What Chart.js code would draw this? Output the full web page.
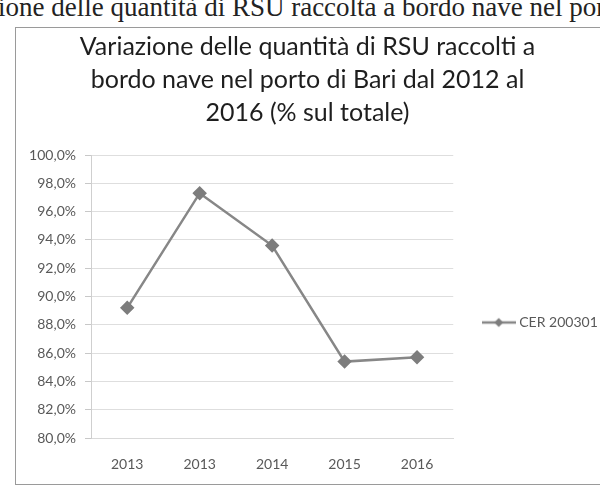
<!DOCTYPE html>
<html lang="it">
<head>
<meta charset="utf-8">
<title>Variazione RSU porto di Bari</title>
<script src="https://cdn.jsdelivr.net/npm/chart.js@4.4.1/dist/chart.umd.min.js"></script>
<style>
  html, body {
    margin: 0;
    padding: 0;
    width: 600px;
    height: 490px;
    overflow: hidden;
    background: #fff;
  }
  .header {
    position: absolute;
    left: -71px;
    top: -6px;
    white-space: nowrap;
    font-family: "Liberation Serif", "DejaVu Serif", serif;
    font-size: 27px;
    line-height: 27px;
    color: #222;
  }
  .frame {
    position: absolute;
    left: 15px;
    top: 27px;
    width: 604px;
    height: 456px;
    border: 1px solid #9a9a9a;
    border-right: none;
  }
</style>
</head>
<body>
<div class="header">Variazione delle quantità di RSU raccolta a bordo nave nel porto di Bari</div>
<div class="frame">
  <canvas id="rsuChart" width="604" height="456"></canvas>
</div>
<script>
const titleLines = [
  "Variazione delle quantità di RSU raccolti a",
  "bordo nave nel porto di Bari dal 2012 al",
  "2016 (% sul totale)",
];
const years = ["2013", "2013", "2014", "2015", "2016"];
const cer200301 = [89.2, 97.3, 93.6, 85.4, 85.7];
const seriesName = "CER 200301";
const yMin = 80;
const yMax = 100;
const yStep = 2;

const lineColor = "#878787";
const markerColor = "#7d7d7d";
const textGray = "#595959";

// little line + diamond for the legend entry
function legendSymbol() {
  const c = document.createElement("canvas");
  c.width = 34;
  c.height = 12;
  const g = c.getContext("2d");
  g.strokeStyle = lineColor;
  g.lineWidth = 2.5;
  g.beginPath();
  g.moveTo(0, 6);
  g.lineTo(34, 6);
  g.stroke();
  g.fillStyle = markerColor;
  g.beginPath();
  g.moveTo(17, 1.5);
  g.lineTo(21.5, 6);
  g.lineTo(17, 10.5);
  g.lineTo(12.5, 6);
  g.closePath();
  g.fill();
  return c;
}

// Excel puts the legend a bit below the middle of the plot
const legendNudge = {
  id: "legendNudge",
  afterLayout(chart) {
    const area = chart.chartArea;
    chart.legend.top = area.top + 26;
    chart.legend.bottom = area.bottom + 26;
  },
};

document.addEventListener("DOMContentLoaded", () => {
  const ctx = document.getElementById("rsuChart").getContext("2d");
  const symbol = legendSymbol();

  new Chart(ctx, {
    type: "line",
    data: {
      labels: years,
      datasets: [
        {
          label: seriesName,
          data: cer200301,
          borderColor: lineColor,
          backgroundColor: markerColor,
          borderWidth: 2.5,
          pointStyle: "rectRot",
          pointRadius: 5.5,
          pointBackgroundColor: markerColor,
          pointBorderColor: markerColor,
          tension: 0,
        },
      ],
    },
    options: {
      responsive: false,
      animation: false,
      layout: {
        padding: { left: 0, right: 21, top: 0, bottom: 11 },
      },
      plugins: {
        title: {
          display: true,
          text: titleLines,
          color: "#1e1e1e",
          font: { family: "Lato", size: 25, weight: "normal", lineHeight: 33 / 25 },
          padding: { top: 2.5, bottom: 25.5 },
        },
        legend: {
          position: "right",
          labels: {
            color: textGray,
            font: { family: "Lato", size: 14 },
            padding: 32,
            usePointStyle: true,
            pointStyleWidth: 27,
            generateLabels: (chart) =>
              chart.data.datasets.map((ds, i) => ({
                text: ds.label,
                datasetIndex: i,
                pointStyle: symbol,
                fontColor: textGray,
                lineWidth: 0,
              })),
          },
        },
        tooltip: { enabled: false },
      },
      scales: {
        x: {
          offset: true,
          grid: { display: false, drawTicks: false },
          border: { display: true, color: "#d9d9d9" },
          ticks: {
            color: textGray,
            font: { family: "Lato", size: 14 },
            padding: 18,
            autoSkip: false,
            maxRotation: 0,
          },
          afterFit: (scale) => {
            scale.height = 35;
          },
        },
        y: {
          min: yMin,
          max: yMax,
          grid: { color: "#dedede", tickLength: 6, tickColor: "#c8c8c8" },
          border: { display: true, color: "#cfcfcf" },
          ticks: {
            stepSize: yStep,
            color: textGray,
            font: { family: "Lato", size: 14 },
            padding: 9,
            callback: (v) => v.toFixed(1).replace(".", ",") + "%",
          },
          afterFit: (scale) => {
            scale.width = 75;
          },
        },
      },
    },
    plugins: [legendNudge],
  });
});
</script>
</body>
</html>
